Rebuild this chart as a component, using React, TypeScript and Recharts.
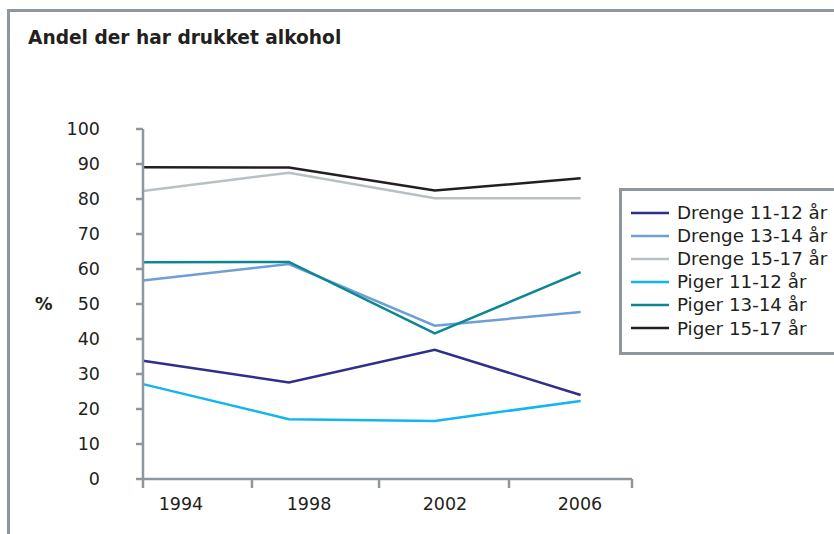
import { LineChart, Line, XAxis, YAxis } from "recharts";

const years = ["1994", "1998", "2002", "2006"];
const drenge1112 = [33.8, 27.6, 36.9, 24.0];
const drenge1314 = [56.7, 61.4, 43.8, 47.7];
const drenge1517 = [82.3, 87.5, 80.2, 80.2];
const piger1112 = [27.1, 17.1, 16.6, 22.3];
const piger1314 = [61.9, 62.0, 41.6, 59.1];
const piger1517 = [89.1, 89.0, 82.4, 85.9];
const yTicks = [0, 10, 20, 30, 40, 50, 60, 70, 80, 90, 100];

// odd excel-style axis: tick marks and labels do not sit on the points
const xMax = 3.352;
const xTickMarks = [0, 0.747, 1.618, 2.509, 3.352];
const xLabelAt = [0.26, 1.138, 2.07, 2.995];

const series = [
  { key: "d1112", name: "Drenge 11-12 år", color: "#2f2e8a", values: drenge1112 },
  { key: "d1314", name: "Drenge 13-14 år", color: "#6d9fd6", values: drenge1314 },
  { key: "d1517", name: "Drenge 15-17 år", color: "#b9c0c4", values: drenge1517 },
  { key: "p1112", name: "Piger 11-12 år", color: "#11b5ef", values: piger1112 },
  { key: "p1314", name: "Piger 13-14 år", color: "#0b8793", values: piger1314 },
  { key: "p1517", name: "Piger 15-17 år", color: "#231f20", values: piger1517 },
];

const data = years.map((year, i) => {
  const row: Record<string, number | string> = { i, year };
  series.forEach((s) => (row[s.key] = s.values[i]));
  return row;
});

const font = "'DejaVu Sans', Verdana, sans-serif";
const axisGray = "#8f979e";
const textColor = "#231f20";

function LegendBox() {
  return (
    <div
      style={{
        position: "absolute",
        left: 619,
        top: 188,
        width: 240,
        height: 167,
        border: `3px solid ${axisGray}`,
        padding: "10px 0 0 9px",
        boxSizing: "border-box",
        fontFamily: font,
        fontSize: 18.3,
        color: textColor,
      }}
    >
      {series.map((s) => (
        <div key={s.key} style={{ display: "flex", alignItems: "center", height: 23.1, whiteSpace: "nowrap" }}>
          <svg width={38} height={4} style={{ marginRight: 8 }}>
            <line x1={0} y1={2} x2={38} y2={2} stroke={s.color} strokeWidth={2.5} />
          </svg>
          <span>{s.name}</span>
        </div>
      ))}
    </div>
  );
}

export default function App() {
  return (
    <div style={{ position: "absolute", left: 0, top: 0, width: 834, height: 534, overflow: "hidden", background: "#fff" }}>
      <div
        style={{
          position: "absolute",
          left: 7,
          top: 9,
          width: 900,
          height: 600,
          borderLeft: `3px solid ${axisGray}`,
          borderTop: `3px solid ${axisGray}`,
        }}
      />
      <div
        style={{
          position: "absolute",
          left: 28,
          top: 29,
          fontFamily: font,
          fontWeight: "bold",
          fontSize: 18.6,
          lineHeight: "18px",
          color: textColor,
          whiteSpace: "nowrap",
        }}
      >
        Andel der har drukket alkohol
      </div>
      <div style={{ position: "absolute", left: 0, top: 0 }}>
        <LineChart width={834} height={534} data={data} margin={{ top: 129, right: 202, left: 0, bottom: 7 }}>
          <YAxis
            domain={[0, 100]}
            ticks={yTicks}
            width={143}
            interval={0}
            tickSize={7}
            tickMargin={36}
            axisLine={{ stroke: axisGray, strokeWidth: 2.5 }}
            tickLine={{ stroke: axisGray, strokeWidth: 2.5 }}
            tick={{ fill: textColor, fontSize: 17.5, fontFamily: font }}
            label={{
              value: "%",
              position: "insideLeft",
              offset: 35,
              fill: textColor,
              fontSize: 17.5,
              fontWeight: "bold",
              fontFamily: font,
            }}
          />
          <XAxis
            xAxisId={0}
            type="number"
            dataKey="i"
            domain={[0, xMax]}
            ticks={xTickMarks}
            interval={0}
            height={10}
            tickSize={9}
            tickFormatter={() => ""}
            axisLine={{ stroke: axisGray, strokeWidth: 2.5 }}
            tickLine={{ stroke: axisGray, strokeWidth: 2.5 }}
          />
          <XAxis
            xAxisId={1}
            type="number"
            dataKey="i"
            domain={[0, xMax]}
            ticks={xLabelAt}
            interval={0}
            height={38}
            tickSize={0}
            tickMargin={9}
            axisLine={false}
            tickLine={false}
            tickFormatter={(v: number) => years[xLabelAt.indexOf(v)] ?? ""}
            tick={{ fill: textColor, fontSize: 17.5, fontFamily: font }}
          />
          {series.map((s) => (
            <Line
              key={s.key}
              xAxisId={0}
              type="linear"
              dataKey={s.key}
              name={s.name}
              stroke={s.color}
              strokeWidth={2.5}
              dot={false}
              activeDot={false}
              isAnimationActive={false}
            />
          ))}
        </LineChart>
      </div>
      <LegendBox />
    </div>
  );
}
